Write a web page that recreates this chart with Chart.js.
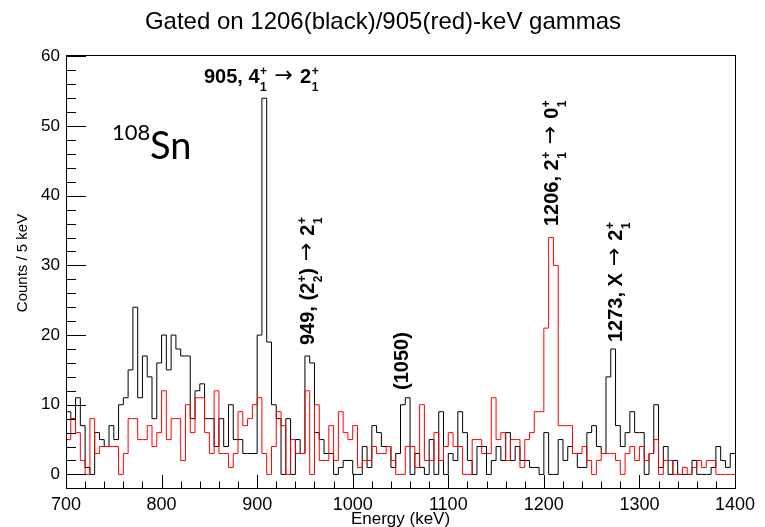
<!DOCTYPE html>
<html>
<head>
<meta charset="utf-8">
<script src="https://cdn.jsdelivr.net/npm/chart.js@4/dist/chart.umd.min.js"></script>
<style>
  html, body { margin: 0; padding: 0; background: #fff; }
  #wrap { width: 765px; height: 527px; }
</style>
</head>
<body>
<div id="wrap"><canvas id="spec" width="765" height="527"></canvas></div>
<script>
// 5 keV bins from 700 to 1400 keV
const binLow = 700;
const binWidth = 5;

// gated on 1206 keV (black)
const blackCounts = [
  9, 8, 11, 7, 1, 0, 6, 5, 4, 7,
  5, 10, 11, 15, 24, 11, 17, 14, 8, 16,
  20, 15, 20, 18, 17, 17, 8, 12, 13, 8,
  8, 4, 8, 4, 10, 5, 5, 3, 3, 3,
  20, 54, 19, 10, 8, 0, 8, 0, 5, 3,
  17, 16, 6, 5, 3, 3, 0, 1, 2, 2,
  0, 0, 4, 1, 7, 6, 4, 4, 1, 3,
  10, 11, 0, 3, 1, 0, 5, 0, 9, 0,
  3, 2, 9, 6, 2, 0, 4, 4, 0, 2,
  4, 2, 6, 2, 4, 2, 2, 1, 1, 0,
  6, 0, 0, 5, 2, 4, 3, 1, 1, 6,
  7, 4, 3, 14, 18, 7, 4, 6, 9, 6,
  6, 0, 3, 10, 1, 4, 0, 2, 0, 0,
  0, 2, 0, 0, 0, 1, 4, 2, 1, 3
];

// gated on 905 keV (red)
const redCounts = [
  5, 8, 6, 2, 0, 8, 3, 4, 4, 4,
  4, 0, 3, 8, 8, 5, 5, 7, 4, 6,
  12, 5, 8, 8, 2, 10, 6, 11, 11, 6,
  3, 12, 3, 3, 1, 3, 9, 7, 8, 10,
  11, 3, 0, 4, 9, 7, 0, 5, 3, 3,
  12, 0, 10, 2, 2, 7, 2, 9, 6, 5,
  7, 1, 2, 2, 4, 3, 3, 4, 2, 0,
  0, 4, 4, 1, 10, 2, 2, 6, 2, 4,
  6, 4, 4, 0, 0, 5, 5, 3, 3, 11,
  5, 6, 2, 5, 5, 1, 5, 6, 9, 9,
  21, 34, 30, 7, 7, 7, 3, 3, 4, 2,
  0, 2, 3, 3, 3, 2, 0, 3, 4, 2,
  4, 2, 3, 5, 0, 2, 2, 0, 0, 1,
  0, 1, 2, 1, 2, 2, 0, 0, 0, 0
];

const xTicks = [700, 800, 900, 1000, 1100, 1200, 1300, 1400];
const yTicks = [0, 10, 20, 30, 40, 50, 60];

// step points: left edge of each bin + closing point at the upper edge
function toSteps(counts) {
  const pts = counts.map((c, i) => ({ x: binLow + i * binWidth, y: c }));
  pts.push({ x: binLow + counts.length * binWidth, y: counts[counts.length - 1] });
  return pts;
}

const FONT = '"Liberation Sans", Arial, Helvetica, sans-serif';
const ARROW = ' \u2192 ';

// label pieces: plain strings are bold text, {sup, sub} is a stacked pair, {arrow} is the arrow
function drawRich(ctx, x, y, parts, size) {
  let cx = x;
  ctx.textAlign = 'left';
  ctx.textBaseline = 'alphabetic';
  for (const p of parts) {
    if (typeof p === 'string') {
      ctx.font = 'bold ' + size + 'px ' + FONT;
      ctx.fillText(p, cx, y);
      cx += ctx.measureText(p).width;
    } else if (p.arrow) {
      ctx.font = (size + 2) + 'px "DejaVu Sans"';
      ctx.fillText(ARROW, cx, y - 1);
      cx += ctx.measureText(ARROW).width;
    } else {
      ctx.font = 'bold ' + Math.round(size * 0.62) + 'px ' + FONT;
      ctx.fillText(p.sup, cx + 0.5, y - size * 0.42);
      ctx.fillText(p.sub, cx + 0.5, y + size * 0.38);
      cx += Math.max(ctx.measureText(p.sup).width, ctx.measureText(p.sub).width) + 1;
    }
  }
}

const labels = [
  { parts: ['905, 4', { sup: '+', sub: '1' }, { arrow: true }, '2', { sup: '+', sub: '1' }], x: 204, y: 83, rot: false },
  { parts: ['949, (2', { sup: '+', sub: '2' }, ')', { arrow: true }, '2', { sup: '+', sub: '1' }], x: 314, y: 345, rot: true },
  { parts: ['(1050)'], x: 408, y: 390, rot: true },
  { parts: ['1206, 2', { sup: '+', sub: '1' }, { arrow: true }, '0', { sup: '+', sub: '1' }], x: 558, y: 226, rot: true },
  { parts: ['1273, X', { arrow: true }, '2', { sup: '+', sub: '1' }], x: 622, y: 342, rot: true }
];

const rootFrame = {
  id: 'rootFrame',
  afterDraw(chart) {
    const ctx = chart.ctx;
    const a = chart.chartArea;
    const xs = chart.scales.x;
    const ys = chart.scales.y;
    ctx.save();
    ctx.strokeStyle = '#000';
    ctx.lineWidth = 1;
    ctx.strokeRect(a.left + 0.5, a.top + 0.5, a.right - a.left, a.bottom - a.top);

    // ticks pointing into the frame
    ctx.beginPath();
    for (let e = 700; e <= 1400; e += 20) {
      const px = Math.round(xs.getPixelForValue(e)) + 0.5;
      const len = (e % 100 === 0) ? 13 : 6.5;
      ctx.moveTo(px, a.bottom);
      ctx.lineTo(px, a.bottom - len);
    }
    for (let c = 0; c <= 60; c += 2) {
      const py = Math.round(ys.getPixelForValue(c)) + 0.5;
      const len = (c % 10 === 0) ? 20 : 10;
      ctx.moveTo(a.left, py);
      ctx.lineTo(a.left + len, py);
    }
    ctx.stroke();

    ctx.fillStyle = '#000';
    // title
    ctx.font = '24px ' + FONT;
    ctx.textAlign = 'center';
    ctx.textBaseline = 'alphabetic';
    ctx.fillText('Gated on 1206(black)/905(red)-keV gammas', 383, 29);

    // axis titles
    ctx.font = '17px ' + FONT;
    ctx.fillText('Energy (keV)', (a.left + a.right) / 2, 524);
    ctx.save();
    ctx.translate(27, 263);
    ctx.rotate(-Math.PI / 2);
    ctx.font = '15px ' + FONT;
    ctx.fillText('Counts / 5 keV', 0, 0);
    ctx.restore();

    // nucleus tag
    ctx.textAlign = 'left';
    ctx.font = '22px Lato';
    ctx.fillText('108', 112, 140);
    ctx.font = '38px Lato';
    ctx.fillText('Sn', 150, 159);

    // peak labels
    for (const l of labels) {
      if (l.rot) {
        ctx.save();
        ctx.translate(l.x, l.y);
        ctx.rotate(-Math.PI / 2);
        drawRich(ctx, 0, 0, l.parts, 20);
        ctx.restore();
      } else {
        drawRich(ctx, l.x, l.y, l.parts, 20);
      }
    }
    ctx.restore();
  }
};

document.addEventListener('DOMContentLoaded', function () {
  const ctx = document.getElementById('spec').getContext('2d');

  new Chart(ctx, {
    type: 'line',
    data: {
      datasets: [
        {
          label: '905 gate',
          data: toSteps(redCounts),
          borderColor: '#ff0000',
          borderWidth: 1,
          stepped: true,
          pointRadius: 0,
          fill: false
        },
        {
          label: '1206 gate',
          data: toSteps(blackCounts),
          borderColor: '#000000',
          borderWidth: 1,
          stepped: true,
          pointRadius: 0,
          fill: false
        }
      ]
    },
    options: {
      responsive: false,
      devicePixelRatio: 1,
      animation: false,
      layout: { padding: { left: 0, right: 30, top: 55, bottom: 0 } },
      plugins: {
        legend: { display: false },
        tooltip: { enabled: false }
      },
      scales: {
        x: {
          type: 'linear',
          min: 700,
          max: 1400,
          grid: { display: false, drawTicks: false },
          border: { display: false },
          afterBuildTicks: s => { s.ticks = xTicks.map(v => ({ value: v })); },
          afterFit: s => { s.height = 39; },
          ticks: {
            color: '#000',
            font: { family: FONT, size: 18 },
            padding: 6,
            maxRotation: 0,
            autoSkip: false,
            callback: v => String(v)
          }
        },
        y: {
          min: -1.95,
          max: 60.2,
          grid: { display: false, drawTicks: false },
          border: { display: false },
          afterBuildTicks: s => { s.ticks = yTicks.map(v => ({ value: v })); },
          afterFit: s => { s.width = 66; },
          ticks: {
            color: '#000',
            font: { family: FONT, size: 17 },
            padding: 6
          }
        }
      }
    },
    plugins: [rootFrame]
  });
});
</script>
</body>
</html>
